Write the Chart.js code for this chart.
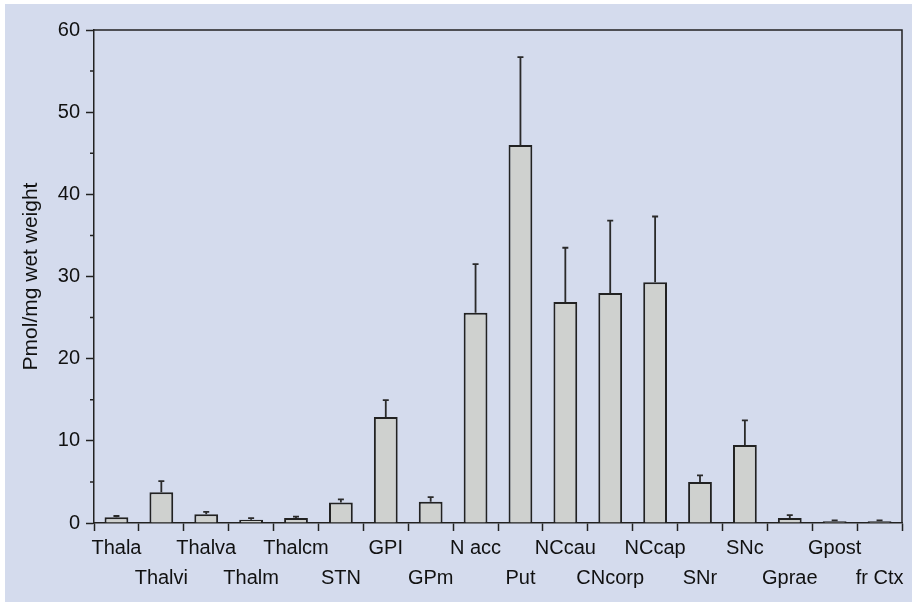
<!DOCTYPE html>
<html>
<head>
<meta charset="utf-8">
<script src="https://cdn.jsdelivr.net/npm/chart.js@4/dist/chart.umd.min.js"></script>
<style>
  html, body { margin: 0; padding: 0; background: #fff; }
  #chart { display: block; }
</style>
</head>
<body>
<canvas id="chart" width="912" height="602"></canvas>
<script>
// regions, mean content and upper error (SEM)
const regions = ['Thala', 'Thalvi', 'Thalva', 'Thalm', 'Thalcm', 'STN', 'GPI', 'GPm', 'N acc', 'Put',
                 'NCcau', 'CNcorp', 'NCcap', 'SNr', 'SNc', 'Gprae', 'Gpost', 'fr Ctx'];
const means = [0.7, 3.75, 1.05, 0.4, 0.6, 2.5, 12.9, 2.6, 25.6, 46.0,
               26.9, 28.0, 29.3, 5.0, 9.5, 0.6, 0.2, 0.2];
const errors = [0.15, 1.35, 0.3, 0.2, 0.17, 0.37, 2.05, 0.55, 5.9, 10.7,
                6.6, 8.8, 8.0, 0.8, 3.0, 0.35, 0.12, 0.12];
const yTicks = [0, 10, 20, 30, 40, 50, 60];
const yMinorTicks = [5, 15, 25, 35, 45, 55];

const FONT = 'Liberation Sans, Arial, Helvetica, sans-serif';
const INK = '#222222';

// alternate labels between the upper and lower row
const staggered = regions.map((r, i) => i % 2 === 0 ? [r, ''] : ['', r]);

const backdrop = {
    id: 'backdrop',
    beforeDraw(chart) {
        const ctx = chart.ctx;
        ctx.save();
        ctx.fillStyle = '#ffffff';
        ctx.fillRect(0, 0, chart.width, chart.height);
        ctx.fillStyle = '#d4dbed';
        ctx.fillRect(5, 4, chart.width - 5, chart.height - 4);
        ctx.restore();
    }
};

const errorBars = {
    id: 'errorBars',
    afterDatasetsDraw(chart) {
        const ctx = chart.ctx;
        const y = chart.scales.y;
        const meta = chart.getDatasetMeta(0);
        ctx.save();
        ctx.strokeStyle = '#2a2a2a';
        ctx.lineWidth = 1.8;
        meta.data.forEach((bar, i) => {
            const top = y.getPixelForValue(means[i] + errors[i]);
            ctx.beginPath();
            ctx.moveTo(bar.x, bar.y);
            ctx.lineTo(bar.x, top);
            ctx.moveTo(bar.x - 3, top);
            ctx.lineTo(bar.x + 3, top);
            ctx.stroke();
        });
        ctx.restore();
    }
};

const frame = {
    id: 'frame',
    afterDraw(chart) {
        const ctx = chart.ctx;
        const a = chart.chartArea;
        const y = chart.scales.y;
        ctx.save();
        ctx.strokeStyle = INK;
        ctx.lineWidth = 1.5;
        ctx.beginPath();
        ctx.moveTo(a.left, a.top);
        ctx.lineTo(a.right, a.top);
        ctx.lineTo(a.right, a.bottom);
        yMinorTicks.forEach(v => {
            const py = y.getPixelForValue(v);
            ctx.moveTo(a.left - 4, py);
            ctx.lineTo(a.left, py);
        });
        ctx.stroke();
        ctx.restore();
    }
};

new Chart(document.getElementById('chart'), {
    type: 'bar',
    data: {
        labels: staggered,
        datasets: [{
            data: means,
            backgroundColor: '#cfd1cf',
            borderColor: INK,
            borderWidth: 2,
            barPercentage: 0.53,
            categoryPercentage: 1
        }]
    },
    options: {
        responsive: false,
        animation: false,
        devicePixelRatio: 1,
        layout: { padding: { left: 0, top: 30, right: 10, bottom: 0 } },
        plugins: {
            legend: { display: false },
            tooltip: { enabled: false }
        },
        scales: {
            x: {
                grid: { drawOnChartArea: false, drawTicks: true, tickLength: 8, tickColor: INK, tickWidth: 1.5 },
                border: { display: true, color: INK, width: 1.5 },
                ticks: {
                    color: '#111',
                    font: { family: FONT, size: 20, lineHeight: 1.5 },
                    padding: 2,
                    maxRotation: 0,
                    autoSkip: false
                },
                afterFit(scale) {
                    scale.height = 79;
                    scale.paddingLeft = 0;
                    scale.paddingRight = 0;
                }
            },
            y: {
                min: 0,
                max: 60,
                afterBuildTicks(scale) {
                    scale.ticks = yTicks.map(v => ({ value: v }));
                },
                grid: { drawOnChartArea: false, drawTicks: true, tickLength: 8, tickColor: INK, tickWidth: 1.5 },
                border: { display: true, color: INK, width: 1.5 },
                ticks: {
                    color: '#111',
                    font: { family: FONT, size: 20 },
                    padding: 6
                },
                title: {
                    display: true,
                    text: 'Pmol/mg wet weight',
                    color: '#111',
                    font: { family: FONT, size: 21 },
                    padding: { top: 19, bottom: 0 }
                },
                afterFit(scale) {
                    scale.width = 94;
                }
            }
        }
    },
    plugins: [backdrop, errorBars, frame]
});
</script>
</body>
</html>
